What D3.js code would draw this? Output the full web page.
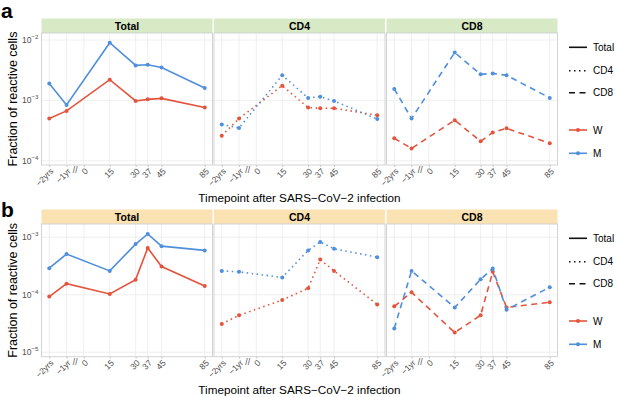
<!DOCTYPE html>
<html>
<head>
<meta charset="utf-8">
<script src="https://cdn.jsdelivr.net/npm/d3@7"></script>
<style>
    body { margin: 0; background: #fff; font-family: "Liberation Sans", Arial, Helvetica, sans-serif; }
</style>
</head>
<body>
<div id="chart"></div>
<script>

// time axis: labels and where they sit on the (compressed) plotting axis
const timeLabels = ["\u22122yrs", "\u22121yr", "0", "15", "30", "37", "45", "85"];
const timePositions = [-20, -10, 0, 15, 30, 37, 45, 70];
const breakPosition = -5;

// sampled timepoints (no sample at day 0)
const samplePositions = [-20, -10, 15, 30, 37, 45, 70];

const facets = ["Total", "CD4", "CD8"];
const groups = ["W", "M"];

// panel a
const aTotalW = [5.0e-4, 6.7e-4, 2.2e-3, 9.8e-4, 1.04e-3, 1.08e-3, 7.6e-4];
const aTotalM = [1.9e-3, 8.4e-4, 9.0e-3, 3.8e-3, 3.9e-3, 3.5e-3, 1.6e-3];
const aCD4W = [2.6e-4, 5.0e-4, 1.75e-3, 7.6e-4, 7.4e-4, 7.4e-4, 5.7e-4];
const aCD4M = [4.0e-4, 3.5e-4, 2.6e-3, 1.1e-3, 1.15e-3, 9.8e-4, 4.9e-4];
const aCD8W = [2.35e-4, 1.6e-4, 4.7e-4, 2.1e-4, 2.95e-4, 3.45e-4, 1.95e-4];
const aCD8M = [1.55e-3, 5.0e-4, 6.2e-3, 2.7e-3, 2.8e-3, 2.6e-3, 1.1e-3];

// panel b
const bTotalW = [9.3e-5, 1.56e-4, 1.03e-4, 1.83e-4, 6.5e-4, 3.1e-4, 1.42e-4];
const bTotalM = [2.9e-4, 5.1e-4, 2.6e-4, 7.6e-4, 1.14e-3, 7.0e-4, 5.9e-4];
const bCD4W = [3.1e-5, 4.4e-5, 8.1e-5, 1.3e-4, 4.1e-4, 2.6e-4, 6.8e-5];
const bCD4M = [2.6e-4, 2.5e-4, 2.0e-4, 5.9e-4, 8.3e-4, 6.3e-4, 4.5e-4];
const bCD8W = [6.3e-5, 1.1e-4, 2.2e-5, 4.4e-5, 2.5e-4, 6.0e-5, 7.4e-5];
const bCD8M = [2.6e-5, 2.6e-4, 6.0e-5, 1.86e-4, 2.85e-4, 5.5e-5, 1.35e-4];

const aTicks = [1e-4, 1e-3, 1e-2];
const bTicks = [1e-5, 1e-4, 1e-3];

const colors = { W: "#e4533c", M: "#4f8fdc" };
const dashes = { Total: null, CD4: "1.5,3.5", CD8: "6,4.5" };

const rows = [
    {
        letter: "a", letterY: 17.5, top: 33, height: 132, stripFill: "#d7e9c5",
        domain: [Math.pow(10, -4.07), Math.pow(10, -1.884)], ticks: aTicks, exp: [-4, -3, -2],
        series: { Total: { W: aTotalW, M: aTotalM }, CD4: { W: aCD4W, M: aCD4M }, CD8: { W: aCD8W, M: aCD8M } }
    },
    {
        letter: "b", letterY: 216.5, top: 224, height: 132.7, stripFill: "#fbe2b2",
        domain: [Math.pow(10, -5.077), Math.pow(10, -2.77)], ticks: bTicks, exp: [-5, -4, -3],
        series: { Total: { W: bTotalW, M: bTotalM }, CD4: { W: bCD4W, M: bCD4M }, CD8: { W: bCD8W, M: bCD8M } }
    }
];

const width = 617, height = 397;
const panelLeft = [41.5, 214, 386.5];
const panelW = 171;
const stripH = 14.5;

const svg = d3.select("#chart").append("svg")
    .attr("width", width)
    .attr("height", height)
    .style("display", "block");

let x = d3.scaleLinear()
    .domain([-24.5, 74.5])
    .range([0, panelW]);

rows.forEach(row => {

    let y = d3.scaleLog()
        .domain(row.domain)
        .range([row.height, 0]);

    // panel letter
    svg.append("text")
        .attr("x", 1)
        .attr("y", row.letterY)
        .attr("font-size", 21)
        .attr("font-weight", "bold")
        .text(row.letter);

    // y title
    svg.append("text")
        .attr("transform", `translate(17, ${row.top + row.height / 2}) rotate(-90)`)
        .attr("text-anchor", "middle")
        .attr("font-size", 12.5)
        .text("Fraction of reactive cells");

    // x title
    svg.append("text")
        .attr("x", (panelLeft[0] + panelLeft[2] + panelW) / 2)
        .attr("y", row.top + row.height + 37)
        .attr("text-anchor", "middle")
        .attr("font-size", 11.7)
        .text("Timepoint after SARS\u2212CoV\u22122 infection");

    facets.forEach((facet, fi) => {
        let g = svg.append("g")
            .attr("transform", `translate(${panelLeft[fi]}, ${row.top})`);

        // strip
        g.append("rect")
            .attr("x", 0)
            .attr("y", -stripH)
            .attr("width", panelW)
            .attr("height", stripH)
            .attr("fill", row.stripFill);

        g.append("text")
            .attr("x", panelW / 2)
            .attr("y", -stripH / 2)
            .attr("dy", "0.36em")
            .attr("text-anchor", "middle")
            .attr("font-size", 10.5)
            .attr("font-weight", "bold")
            .text(facet);

        // grid
        g.selectAll(".vgrid")
            .data(timePositions)
            .enter()
            .append("line")
            .attr("class", "vgrid")
            .attr("x1", d => x(d)).attr("x2", d => x(d))
            .attr("y1", 0).attr("y2", row.height)
            .attr("stroke", "#ebebeb")
            .attr("stroke-width", 0.8);

        g.selectAll(".hgrid")
            .data(row.ticks)
            .enter()
            .append("line")
            .attr("class", "hgrid")
            .attr("x1", 0).attr("x2", panelW)
            .attr("y1", d => y(d)).attr("y2", d => y(d))
            .attr("stroke", "#ebebeb")
            .attr("stroke-width", 0.8);

        // x axis
        let xAxis = g.append("g")
            .attr("class", "axis x-axis")
            .attr("transform", `translate(0, ${row.height})`)
            .call(d3.axisBottom(x)
                .tickValues(timePositions)
                .tickFormat((d, i) => timeLabels[i])
                .tickSize(2)
                .tickSizeOuter(0));

        xAxis.select(".domain").remove();
        xAxis.selectAll(".tick line").attr("stroke", "#c8c8c8");
        xAxis.selectAll(".tick text")
            .attr("x", 0)
            .attr("y", 0)
            .attr("dy", "0.71em")
            .attr("transform", "translate(0, 2.5) rotate(-45)")
            .attr("text-anchor", "end")
            .attr("font-size", 8.5)
            .attr("font-family", "Liberation Sans, Arial, sans-serif")
            .attr("fill", "#4d4d4d");

        // axis break mark
        g.append("text")
            .attr("x", x(breakPosition))
            .attr("y", row.height + 8)
            .attr("text-anchor", "middle")
            .attr("font-size", 8.5)
            .attr("fill", "#4d4d4d")
            .text("//");

        // y axis labels only on first facet
        if (fi === 0) {
            let yLab = g.selectAll(".ylab")
                .data(row.ticks)
                .enter()
                .append("text")
                .attr("class", "ylab")
                .attr("x", -3)
                .attr("y", d => y(d) + 3)
                .attr("text-anchor", "end")
                .attr("font-size", 8.5)
                .attr("fill", "#4d4d4d");
            yLab.append("tspan").text("10");
            yLab.append("tspan")
                .attr("dy", -4)
                .attr("font-size", 6.2)
                .text((d, i) => "\u2212" + Math.abs(row.exp[i]));
        }

        // lines and points
        let line = d3.line()
            .x((d, i) => x(samplePositions[i]))
            .y(d => y(d));

        groups.forEach(grp => {
            let vals = row.series[facet][grp];
            g.append("path")
                .datum(vals)
                .attr("d", line)
                .attr("fill", "none")
                .attr("stroke", colors[grp])
                .attr("stroke-width", 1.6)
                .attr("stroke-dasharray", dashes[facet]);

            g.selectAll(".pt-" + grp)
                .data(vals)
                .enter()
                .append("circle")
                .attr("class", "pt-" + grp)
                .attr("cx", (d, i) => x(samplePositions[i]))
                .attr("cy", d => y(d))
                .attr("r", 2)
                .attr("fill", colors[grp]);
        });

        // panel border
        g.append("rect")
            .attr("x", 0).attr("y", 0)
            .attr("width", panelW).attr("height", row.height)
            .attr("fill", "none")
            .attr("stroke", "#cfcfcf")
            .attr("stroke-width", 0.9);
    });

    // legend
    let lg = svg.append("g")
        .attr("transform", `translate(569, ${row.top})`);

    let typeOffsets = [14.3, 37.7, 59.7];
    facets.forEach((f, i) => {
        lg.append("line")
            .attr("x1", 0).attr("x2", 18)
            .attr("y1", typeOffsets[i]).attr("y2", typeOffsets[i])
            .attr("stroke", "#111")
            .attr("stroke-width", 1.6)
            .attr("stroke-dasharray", dashes[f]);
        lg.append("text")
            .attr("x", 24)
            .attr("y", typeOffsets[i])
            .attr("dy", "0.36em")
            .attr("font-size", 10)
            .text(f);
    });

    let colorOffsets = [97, 120.3];
    groups.forEach((grp, i) => {
        lg.append("line")
            .attr("x1", 0).attr("x2", 18)
            .attr("y1", colorOffsets[i]).attr("y2", colorOffsets[i])
            .attr("stroke", colors[grp])
            .attr("stroke-width", 1.6);
        lg.append("circle")
            .attr("cx", 9).attr("cy", colorOffsets[i])
            .attr("r", 2)
            .attr("fill", colors[grp]);
        lg.append("text")
            .attr("x", 24)
            .attr("y", colorOffsets[i])
            .attr("dy", "0.36em")
            .attr("font-size", 10)
            .text(grp);
    });
});

</script>
</body>
</html>
